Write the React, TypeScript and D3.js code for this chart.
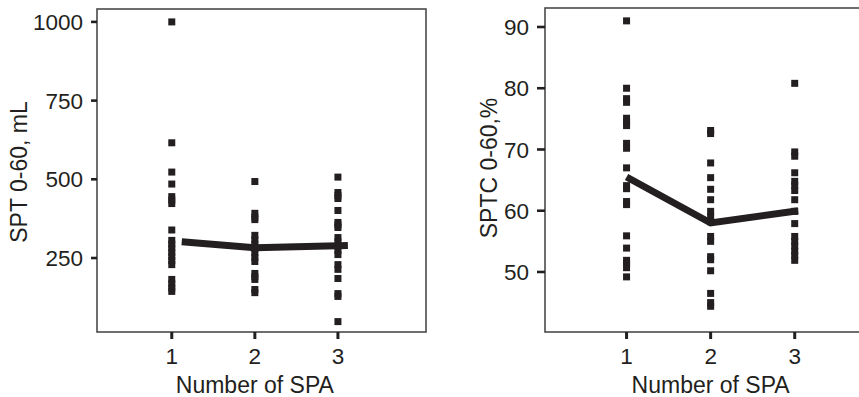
import * as d3 from "d3";

// panel A: SPT 0-60, mL
const sptGroup1 = [1000, 616, 523, 485, 445, 434, 423, 339, 306, 294, 281, 268, 255, 242, 229, 182, 168, 155, 144];
const sptGroup2 = [493, 392, 380, 372, 322, 308, 294, 280, 266, 252, 239, 201, 191, 182, 150, 140];
const sptGroup3 = [507, 458, 448, 439, 401, 363, 355, 347, 315, 301, 288, 274, 261, 229, 214, 185, 137, 128, 48];
const sptMeanX = [1.12, 2, 3.12];
const sptMean = [302, 283, 290];
const sptTicks = [250, 500, 750, 1000];

// panel B: SPTC 0-60, %
const sptcGroup1 = [91.0, 80.0, 78.3, 77.7, 75.1, 74.4, 73.9, 71.0, 70.2, 67.0, 64.1, 63.6, 61.5, 61.0, 55.9, 53.9, 51.9, 51.4, 50.7, 49.2];
const sptcGroup2 = [73.1, 72.6, 67.8, 65.4, 63.5, 61.8, 59.9, 59.0, 58.2, 55.8, 55.0, 52.5, 52.0, 50.2, 46.5, 45.0, 44.4];
const sptcGroup3 = [80.8, 69.6, 68.9, 66.2, 64.8, 64.1, 63.3, 61.8, 59.9, 57.9, 55.8, 55.0, 54.2, 53.4, 52.7, 51.9];
const sptcMeanX = [1, 2, 3.04];
const sptcMean = [65.5, 58.0, 60.0];
const sptcTicks = [50, 60, 70, 80, 90];

const groups = [1, 2, 3];
const ink = "#231f20";
const font = "'Liberation Sans', Arial, Helvetica, sans-serif";

type PanelProps = {
  left: number;
  right: number;
  top: number;
  bottom: number;
  xDomain: [number, number];
  yDomain: [number, number];
  yTicks: number[];
  values: number[][];
  meanX: number[];
  mean: number[];
  yLabel: string;
  yLabelX: number;
  yLabelY: number;
  tickLen: number;
};

function Panel(p: PanelProps) {
  const x = d3.scaleLinear().domain(p.xDomain).range([p.left, p.right]);
  const y = d3.scaleLinear().domain(p.yDomain).range([p.bottom, p.top]);
  const line = d3.line<number>()
    .x((_, i) => x(p.meanX[i]))
    .y(d => y(d));
  const sq = 7;

  return (
    <g>
      <rect x={p.left} y={p.top} width={p.right - p.left} height={p.bottom - p.top}
        fill="none" stroke="#4a4a4a" strokeWidth={1.6} />
      {/* y axis */}
      {p.yTicks.map(t => (
        <g key={t}>
          <line x1={p.left - p.tickLen} x2={p.left} y1={y(t)} y2={y(t)} stroke={ink} strokeWidth={2.6} />
          <text x={p.left - p.tickLen - 8} y={y(t)} dy="0.36em" textAnchor="end"
            fontSize={22.5} fill={ink}>{t}</text>
        </g>
      ))}
      {/* x axis */}
      {groups.map(g => (
        <g key={g}>
          <line x1={x(g)} x2={x(g)} y1={p.bottom} y2={p.bottom + 7} stroke={ink} strokeWidth={3} />
          <text x={x(g)} y={p.bottom + 32} textAnchor="middle" fontSize={22.5} fill={ink}>{g}</text>
        </g>
      ))}
      <text x={x(2)} y={p.bottom + 61} textAnchor="middle" fontSize={23} fill={ink}>Number of SPA</text>
      <text transform={`translate(${p.yLabelX},${p.yLabelY}) rotate(-90)`} textAnchor="middle"
        fontSize={23} fill={ink}>{p.yLabel}</text>
      {/* points */}
      {p.values.map((vals, gi) =>
        vals.map((v, i) => (
          <rect key={`${gi}-${i}`} x={x(groups[gi]) - sq / 2} y={y(v) - sq / 2}
            width={sq} height={sq} fill={ink} />
        ))
      )}
      <path d={line(p.mean) ?? ""} fill="none" stroke={ink} strokeWidth={7} />
    </g>
  );
}

export default function App() {
  return (
    <div style={{ position: "fixed", left: 0, top: 0, background: "#fff" }}>
      <svg width={859} height={397} style={{ display: "block", fontFamily: font }}>
        <rect width={859} height={397} fill="#fff" />
        <Panel left={97} right={426} top={9} bottom={332}
          xDomain={[0.1, 4.06]} yDomain={[15, 1041]} yTicks={sptTicks}
          values={[sptGroup1, sptGroup2, sptGroup3]} meanX={sptMeanX} mean={sptMean}
          yLabel="SPT 0-60, mL" yLabelX={27} yLabelY={172} tickLen={6} />
        <Panel left={545} right={883} top={8} bottom={332}
          xDomain={[0.03, 4.05]} yDomain={[40.2, 93.1]} yTicks={sptcTicks}
          values={[sptcGroup1, sptcGroup2, sptcGroup3]} meanX={sptcMeanX} mean={sptcMean}
          yLabel="SPTC 0-60,%" yLabelX={497} yLabelY={168} tickLen={8} />
      </svg>
    </div>
  );
}
